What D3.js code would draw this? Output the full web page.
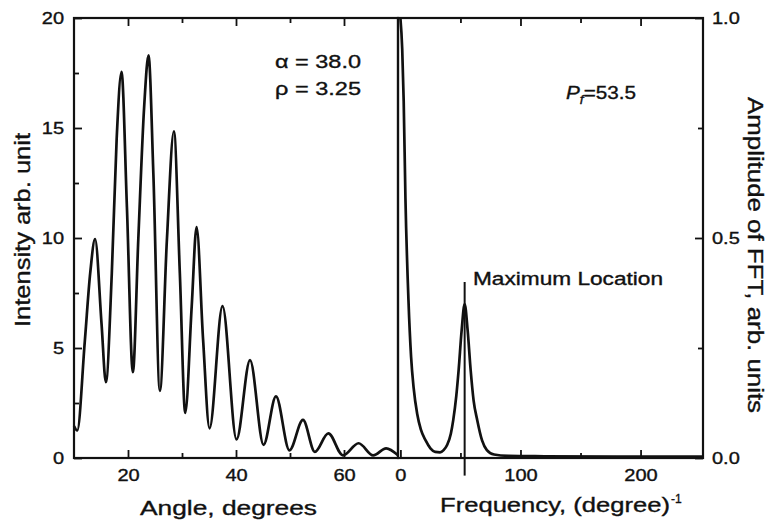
<!DOCTYPE html>
<html>
<head>
<meta charset="utf-8">
<script src="https://cdn.jsdelivr.net/npm/d3@7"></script>
<style>
  body { margin: 0; background: #fff; }
  svg { display: block; }
  text { font-family: "Liberation Sans", Arial, sans-serif; fill: #111; stroke: #111; stroke-width: 0.35px; }
  .tick line { stroke: #111; stroke-width: 1.8px; }
  .domain { display: none; }
</style>
</head>
<body>
<div id="chart"></div>
<script>
// left panel: diffraction intensity vs angle
var angleDeg = [10.0, 10.6, 12.0, 13.0, 13.9, 15.1, 15.9, 17.0, 17.9, 18.8, 19.8, 20.9,
  21.9, 23.0, 23.8, 24.7, 25.9, 27.2, 28.5, 29.6, 30.6, 31.8, 32.7, 33.9, 35.1,
  37.5, 40.1, 42.6, 45.1, 47.4, 49.9, 52.4, 54.6, 57.1, 59.8, 62.7, 65.4, 67.8, 70.0];
var intensity = [1.45, 1.25, 5.3, 8.4, 9.95, 6.1, 3.45, 8.4, 14.5, 17.55, 11.4, 3.9,
  9.9, 16.0, 18.3, 12.9, 3.05, 9.9, 14.85, 8.4, 2.05, 6.9, 10.5, 5.4, 1.35,
  6.9, 0.85, 4.45, 0.6, 2.8, 0.35, 1.73, 0.28, 1.12, 0.12, 0.67, 0.12, 0.44, 0.12];

// right panel: FFT amplitude vs frequency
var freq = [0, 1.5, 2.75, 4.2, 6.7, 8.9, 11, 14, 17, 21, 25, 29, 33, 36, 39, 42, 44,
  46.5, 48.5, 51, 53.5, 56, 58.5, 61, 64, 68, 72, 78, 90, 120, 180, 252];
var fftAmp = [1.0, 0.93, 0.81, 0.59, 0.36, 0.23, 0.16, 0.10, 0.065, 0.04, 0.022, 0.014,
  0.013, 0.018, 0.03, 0.055, 0.086, 0.14, 0.2, 0.29, 0.35, 0.29, 0.2, 0.13, 0.086,
  0.04, 0.018, 0.008, 0.005, 0.004, 0.003, 0.003];

var angleTicks = [20, 40, 60], angleMinor = [30, 50];
var intTicks = [0, 5, 10, 15, 20], intMinor = [2.5, 7.5, 12.5, 17.5];
var freqTicks = [0, 100, 200], freqMinor = [50, 150];
var ampTicks = [0, 0.5, 1.0], ampMinor = [0.25, 0.75];

var alpha = 38.0, rho = 3.25, peakFreq = 53.5;
var markerAmp = [-0.04, 0.40];

var width = 768, height = 525;
var plotTop = 18, plotBot = 458;

var svg = d3.select('#chart').append('svg')
  .attr('width', width)
  .attr('height', height);

var xA = d3.scaleLinear().domain([10, 70]).range([74, 398]);
var yI = d3.scaleLinear().domain([0, 20]).range([plotBot, plotTop]);
var xF = d3.scaleLinear().domain([-2, 252]).range([398, 703]);
var yA = d3.scaleLinear().domain([0, 1]).range([plotBot, plotTop]);

// stretch text sideways, the scanned lettering is wider than Arial
function widen(sel, k) {
  sel.each(function () {
    var w = this.getComputedTextLength();
    d3.select(this).attr('textLength', w * k).attr('lengthAdjust', 'spacingAndGlyphs');
  });
}
function fit(sel, len) {
  sel.attr('textLength', len).attr('lengthAdjust', 'spacingAndGlyphs');
}

function ticks(axis, tr) {
  var g = svg.append('g').attr('transform', tr).call(axis);
  g.selectAll('text').style('font-size', '16px');
  widen(g.selectAll('text'), 1.25);
  return g;
}

// left panel axes
ticks(d3.axisLeft(yI).tickValues(intTicks).tickSize(-8).tickPadding(10), 'translate(74,0)');
ticks(d3.axisLeft(yI).tickValues(intMinor).tickSize(-5).tickFormat(''), 'translate(74,0)');
ticks(d3.axisBottom(xA).tickValues(angleTicks).tickSize(-8).tickPadding(12), 'translate(0,' + plotBot + ')');
ticks(d3.axisBottom(xA).tickValues(angleMinor).tickSize(-5).tickFormat(''), 'translate(0,' + plotBot + ')');
ticks(d3.axisTop(xA).tickValues(angleTicks).tickSize(-8).tickFormat(''), 'translate(0,' + plotTop + ')');
ticks(d3.axisTop(xA).tickValues(angleMinor).tickSize(-5).tickFormat(''), 'translate(0,' + plotTop + ')');

// right panel axes
ticks(d3.axisRight(yA).tickValues(ampTicks).tickSize(-8).tickPadding(9).tickFormat(d3.format('.1f')), 'translate(703,0)');
ticks(d3.axisRight(yA).tickValues(ampMinor).tickSize(-5).tickFormat(''), 'translate(703,0)');
ticks(d3.axisBottom(xF).tickValues(freqTicks).tickSize(-8).tickPadding(12), 'translate(0,' + plotBot + ')');
ticks(d3.axisBottom(xF).tickValues(freqMinor).tickSize(-5).tickFormat(''), 'translate(0,' + plotBot + ')');
ticks(d3.axisTop(xF).tickValues(freqTicks.slice(1)).tickSize(-8).tickFormat(''), 'translate(0,' + plotTop + ')');
ticks(d3.axisTop(xF).tickValues(freqMinor).tickSize(-5).tickFormat(''), 'translate(0,' + plotTop + ')');

// frames
svg.append('rect')
  .attr('x', xA.range()[0]).attr('y', plotTop)
  .attr('width', xA.range()[1] - xA.range()[0]).attr('height', plotBot - plotTop)
  .attr('fill', 'none').attr('stroke', '#111').attr('stroke-width', 2.2);
svg.append('rect')
  .attr('x', xF.range()[0]).attr('y', plotTop)
  .attr('width', xF.range()[1] - xF.range()[0]).attr('height', plotBot - plotTop)
  .attr('fill', 'none').attr('stroke', '#111').attr('stroke-width', 2.2);

// curves
var lineI = d3.line()
  .x(function (d, i) { return xA(angleDeg[i]); })
  .y(function (d) { return yI(d); })
  .curve(d3.curveMonotoneX);
svg.append('path')
  .datum(intensity)
  .attr('d', lineI)
  .attr('fill', 'none').attr('stroke', '#111').attr('stroke-width', 2.7)
  .attr('stroke-linejoin', 'round');

var lineF = d3.line()
  .x(function (d, i) { return xF(freq[i]); })
  .y(function (d) { return yA(d); })
  .curve(d3.curveMonotoneX);
svg.append('path')
  .datum(fftAmp)
  .attr('d', lineF)
  .attr('fill', 'none').attr('stroke', '#111').attr('stroke-width', 2.7)
  .attr('stroke-linejoin', 'round');

// maximum location marker
svg.append('line')
  .attr('x1', xF(peakFreq)).attr('x2', xF(peakFreq))
  .attr('y1', yA(markerAmp[0])).attr('y2', yA(markerAmp[1]))
  .attr('stroke', '#111').attr('stroke-width', 2);

// annotations
fit(svg.append('text').attr('x', 275).attr('y', 68).style('font-size', '18.5px')
  .text('\u03b1 = ' + alpha.toFixed(1)), 86);
fit(svg.append('text').attr('x', 275).attr('y', 95).style('font-size', '18.5px')
  .text('\u03c1 = ' + rho.toFixed(2)), 86);

var pf = svg.append('text').attr('x', 566).attr('y', 99).style('font-size', '18px');
pf.append('tspan').style('font-style', 'italic').text('P');
pf.append('tspan').style('font-style', 'italic').style('font-size', '12px').attr('dy', 5).text('f');
pf.append('tspan').attr('dy', -5).text('=' + peakFreq.toFixed(1));
fit(pf, 70);

fit(svg.append('text').attr('x', 473).attr('y', 285).style('font-size', '17.5px')
  .text('Maximum Location'), 190);

// axis titles
fit(svg.append('text').attr('text-anchor', 'middle')
  .attr('transform', 'translate(30,230) rotate(-90)')
  .style('font-size', '22px').text('Intensity arb. unit'), 194);
fit(svg.append('text').attr('text-anchor', 'middle')
  .attr('transform', 'translate(748,255) rotate(90)')
  .style('font-size', '22px').text('Amplitude of FFT, arb. units'), 316);
fit(svg.append('text').attr('x', 140).attr('y', 515)
  .style('font-size', '21px').text('Angle, degrees'), 177);
fit(svg.append('text').attr('x', 440).attr('y', 512)
  .style('font-size', '21px').text('Frequency, (degree)'), 230);
svg.append('text').attr('x', 671).attr('y', 503)
  .style('font-size', '12px').text('-1');
</script>
</body>
</html>
